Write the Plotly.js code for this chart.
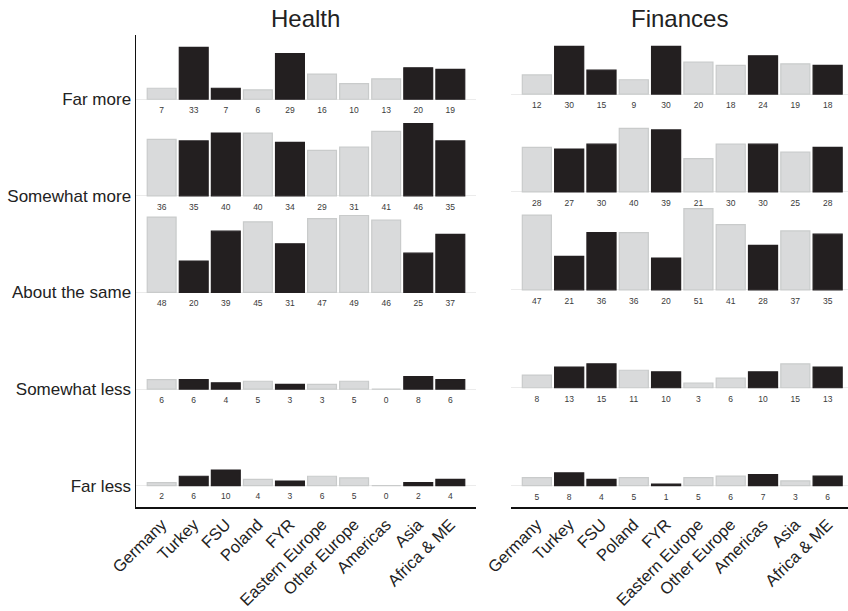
<!DOCTYPE html>
<html>
<head>
<meta charset="utf-8">
<script src="https://cdn.plot.ly/plotly-3.0.1.min.js"></script>
<style>html,body{margin:0;padding:0;background:#fff;}#chart{width:848px;height:611px;}</style>
</head>
<body>
<div id="chart"></div>
<script>
// ---- Data ----
const categories = ['Germany','Turkey','FSU','Poland','FYR','Eastern Europe','Other Europe','Americas','Asia','Africa & ME'];
const responses = ['Far more','Somewhat more','About the same','Somewhat less','Far less'];
const panelTitles = ['Health','Finances'];

const healthFarMore      = [7, 33, 7, 6, 29, 16, 10, 13, 20, 19];
const healthSomewhatMore = [36, 35, 40, 40, 34, 29, 31, 41, 46, 35];
const healthAboutSame    = [48, 20, 39, 45, 31, 47, 49, 46, 25, 37];
const healthSomewhatLess = [6, 6, 4, 5, 3, 3, 5, 0, 8, 6];
const healthFarLess      = [2, 6, 10, 4, 3, 6, 5, 0, 2, 4];

const financesFarMore      = [12, 30, 15, 9, 30, 20, 18, 24, 19, 18];
const financesSomewhatMore = [28, 27, 30, 40, 39, 21, 30, 30, 25, 28];
const financesAboutSame    = [47, 21, 36, 36, 20, 51, 41, 28, 37, 35];
const financesSomewhatLess = [8, 13, 15, 11, 10, 3, 6, 10, 15, 13];
const financesFarLess      = [5, 8, 4, 5, 1, 5, 6, 7, 3, 6];

// highlighted (dark) categories per panel: 1 = highlighted
const healthHighlight   = [0, 1, 1, 0, 1, 0, 0, 0, 1, 1];
const financesHighlight = [0, 1, 1, 0, 1, 0, 0, 1, 0, 1];

// ---- Build ----
const ROW = 61.5;
const DARK = '#231f20', LIGHT = '#d9dadb', LIGHT_LINE = '#c9cbcb';
const FONT = 'Liberation Sans, Arial, Helvetica, sans-serif';

const panels = [
  {rows: [healthFarMore, healthSomewhatMore, healthAboutSame, healthSomewhatLess, healthFarLess], hl: healthHighlight, xa: 'x', ya: 'y'},
  {rows: [financesFarMore, financesSomewhatMore, financesAboutSame, financesSomewhatLess, financesFarLess], hl: financesHighlight, xa: 'x2', ya: 'y2'}
];
const offsets = responses.map((r, i) => (responses.length - 1 - i) * ROW);

const traces = [];
panels.forEach(p => {
  p.rows.forEach((vals, ri) => {
    const base = offsets[ri];
    traces.push({
      type: 'bar', x: categories, y: vals, base: vals.map(() => base),
      xaxis: p.xa, yaxis: p.ya, width: 0.9,
      marker: {
        color: p.hl.map(h => h ? DARK : LIGHT),
        line: {color: p.hl.map(h => h ? DARK : LIGHT_LINE), width: 1.2}
      },
      hoverinfo: 'skip', showlegend: false
    });
    traces.push({
      type: 'scatter', mode: 'text', x: categories, y: vals.map(() => base - 7.4),
      text: vals.map(String), textposition: 'middle center',
      textfont: {family: FONT, size: 8.5, color: '#3a3a3a'},
      xaxis: p.xa, yaxis: p.ya, cliponaxis: false,
      hoverinfo: 'skip', showlegend: false
    });
  });
});

const xCommon = {
  type: 'category', showline: true, linecolor: '#111', linewidth: 1.5,
  ticks: '', showgrid: false, zeroline: false, tickangle: -45,
  tickfont: {family: FONT, size: 16.5, color: '#222'}, fixedrange: true
};
const layout = {
  width: 848, height: 611,
  margin: {l: 136, r: 0, t: 35, b: 104},
  paper_bgcolor: '#fff', plot_bgcolor: '#fff',
  barmode: 'overlay', showlegend: false,
  font: {family: FONT},
  xaxis: Object.assign({}, xCommon, {domain: [0, 0.4775], range: [-0.8, 9.8], anchor: 'y'}),
  xaxis2: Object.assign({}, xCommon, {domain: [0.5267, 1], range: [-0.8, 9.63], anchor: 'y2'}),
  yaxis: {
    domain: [0, 1], range: [-13.56, 286.9], anchor: 'x',
    tickvals: offsets, ticktext: responses, ticks: '',
    showgrid: true, gridcolor: '#ebebeb', gridwidth: 1, zeroline: false,
    showline: true, linecolor: '#111', linewidth: 1.5,
    tickfont: {family: FONT, size: 17, color: '#222'}, fixedrange: true
  },
  yaxis2: {
    domain: [0, 1], range: [-13.4, 283.1], anchor: 'x2',
    tickvals: offsets, showticklabels: false, ticks: '',
    showgrid: true, gridcolor: '#ebebeb', gridwidth: 1, zeroline: false,
    showline: false, fixedrange: true
  },
  annotations: [
    {text: panelTitles[0], xref: 'x domain', yref: 'paper', x: 0.5, y: 1, yshift: 17,
     xanchor: 'center', yanchor: 'middle', showarrow: false, font: {family: FONT, size: 24, color: '#222'}},
    {text: panelTitles[1], xref: 'x2 domain', yref: 'paper', x: 0.5, y: 1, yshift: 17,
     xanchor: 'center', yanchor: 'middle', showarrow: false, font: {family: FONT, size: 24, color: '#222'}}
  ]
};

Plotly.newPlot('chart', traces, layout, {displayModeBar: false, staticPlot: true});
</script>
</body>
</html>
